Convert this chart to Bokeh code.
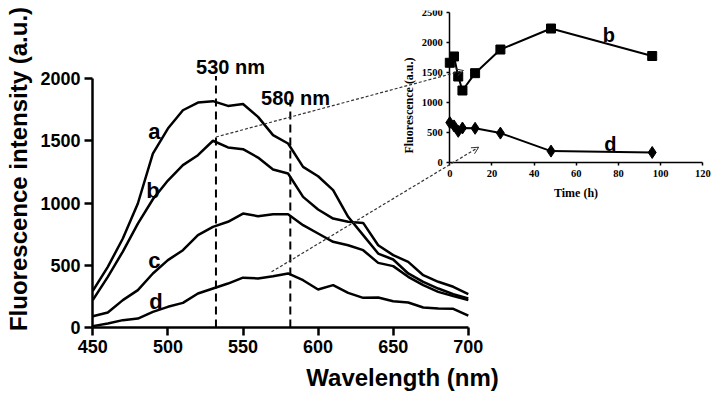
import math
from bokeh.plotting import figure
from bokeh.models import Range1d, LinearAxis, FixedTicker, Arrow, OpenHead, Label
from bokeh.core.properties import value
from bokeh.embed import file_html
from bokeh.resources import INLINE

# ---------------- data ----------------
WAVELENGTH = [450, 460, 470, 480, 490, 500, 510, 520, 530, 540, 550, 560, 570,
              580, 590, 600, 610, 620, 630, 640, 650, 660, 670, 680, 690, 700]
CURVE_A = [294, 487, 715, 996, 1397, 1598, 1745, 1807, 1818, 1780, 1795, 1692, 1545,
           1478, 1290, 1215, 1103, 889, 742, 594, 546, 434, 367, 313, 268, 233]
CURVE_B = [220, 407, 610, 835, 1030, 1180, 1304, 1384, 1500, 1446, 1432, 1365, 1269,
           1237, 1049, 948, 875, 849, 840, 661, 581, 527, 420, 367, 327, 268]
CURVE_C = [91, 120, 220, 300, 434, 541, 621, 742, 808, 849, 915, 894, 910,
           910, 822, 755, 688, 661, 621, 519, 493, 407, 340, 286, 252, 220]
CURVE_D = [11, 32, 59, 72, 126, 166, 198, 273, 313, 353, 400, 394, 412,
           434, 380, 305, 340, 278, 238, 241, 211, 201, 161, 153, 150, 95]
CURVE_NAMES = ["a", "b", "c", "d"]
CURVE_LABEL_X = [491, 490, 491, 492]
CURVE_LABEL_Y = [1571, 1103, 541, 206]

WL_TICKS = [450, 500, 550, 600, 650, 700]
INT_TICKS = [0, 500, 1000, 1500, 2000]

PEAK_X = [532, 581.5]
PEAK_TOP = [2020, 1830]
PEAK_TEXT = ["530 nm", "580 nm"]
PEAK_TEXT_X = [541.7, 585]
PEAK_TEXT_Y = [2093, 1847]

TIME_H = [0, 2, 4, 6, 12, 24, 48, 96]
INSET_B = [1667, 1772, 1438, 1205, 1494, 1888, 2238, 1780]
INSET_D = [670, 615, 525, 580, 575, 495, 195, 172]
TIME_TICKS = [0, 20, 40, 60, 80, 100, 120]
FLUO_TICKS = [0, 500, 1000, 1500, 2000, 2500]
INSET_LABEL_NAMES = ["b", "d"]
INSET_LABEL_T = [75.4, 76.2]
INSET_LABEL_F = [2122, 317]

# connectors: from main (nm, a.u.) to inset (h, a.u.)
CONN_FROM = [(532, 1530), (569, 447)]
CONN_TO = [(6.5, 1538), (13.7, 260)]

# ---------------- layout (canvas pixels) ----------------
FRAME_L = 92
FRAME_T = 10
FRAME_W = 620
FRAME_H = 317
PX_PER_NM = 1.502
PX_PER_AU = 249 / 2000.0
x_start = 450 - (92.3 - FRAME_L) / PX_PER_NM
x_end = x_start + FRAME_W / PX_PER_NM
y_end = FRAME_H / PX_PER_AU

# inset: t=0 at x 449.3, 120 at 702.3 ; f=0 at y 162.3, 2500 at 12.3
PX_PER_T = (702.3 - 449.3) / 120.0
PX_PER_F = (162.3 - 12.3) / 2500.0
t_start = -(449.3 - FRAME_L) / PX_PER_T
t_end = t_start + FRAME_W / PX_PER_T
f_end = 2500 + (12.3 - FRAME_T) / PX_PER_F
f_start = f_end - FRAME_H / PX_PER_F


def inset_to_main(t, f):
    nm = x_start + (t - t_start) * PX_PER_T / PX_PER_NM
    au = (f - f_start) * PX_PER_F / PX_PER_AU
    return nm, au


p = figure(frame_width=FRAME_W, frame_height=FRAME_H,
           x_range=Range1d(x_start, x_end), y_range=Range1d(0, y_end),
           output_backend="svg", toolbar_location=None,
           min_border_left=FRAME_L, min_border_top=FRAME_T,
           min_border_right=6, min_border_bottom=0,
           background_fill_color="white", border_fill_color="white")
p.xgrid.visible = False
p.ygrid.visible = False
p.outline_line_color = None
p.extra_x_ranges = {"t": Range1d(t_start, t_end)}
p.extra_y_ranges = {"f": Range1d(f_start, f_end)}

SANS = "Liberation Sans"
SERIF = "Liberation Serif"

# main axes
xa = p.xaxis[0]
xa.bounds = (450, 700)
xa.ticker = FixedTicker(ticks=WL_TICKS)
xa.axis_label = "Wavelength (nm)"
ya = p.yaxis[0]
ya.bounds = (0, 2000)
ya.ticker = FixedTicker(ticks=INT_TICKS)
ya.axis_label = "Fluorescence intensity (a.u.)"
for ax in (xa, ya):
    ax.axis_line_width = 2.5
    ax.axis_line_color = "black"
    ax.major_tick_line_width = 2.5
    ax.major_tick_line_color = "black"
    ax.major_tick_out = 8
    ax.major_tick_in = 0
    ax.minor_tick_line_color = None
    ax.major_label_text_font = SANS
    ax.major_label_text_font_style = "bold"
    ax.major_label_text_font_size = "18px"
    ax.major_label_text_color = "black"
    ax.major_label_standoff = 4
    ax.axis_label_text_font = SANS
    ax.axis_label_text_font_style = "bold"
    ax.axis_label_text_font_size = "24px"
    ax.axis_label_text_color = "black"
xa.axis_label_standoff = 8
ya.axis_label_standoff = 5

# curves
for ys in (CURVE_A, CURVE_B, CURVE_C, CURVE_D):
    p.line(WAVELENGTH, ys, line_width=2.5, line_color="black")
p.text(x=CURVE_LABEL_X, y=CURVE_LABEL_Y, text=CURVE_NAMES,
       text_font=value(SANS), text_font_style="bold", text_font_size="22px",
       text_align="center", text_baseline="middle", text_color="black")

# dashed marker lines
p.segment(x0=PEAK_X, y0=[0, 0], x1=PEAK_X, y1=PEAK_TOP,
          line_width=2, line_color="black", line_dash="8 5")
p.text(x=PEAK_TEXT_X, y=PEAK_TEXT_Y, text=PEAK_TEXT,
       text_font=value(SANS), text_font_style="bold", text_font_size="20px",
       text_align="center", text_baseline="middle", text_color="black")

# inset axes
ix = LinearAxis(x_range_name="t", y_range_name="f", fixed_location=0,
                bounds=(0, 120), ticker=FixedTicker(ticks=TIME_TICKS),
                axis_label="Time (h)")
iy = LinearAxis(x_range_name="t", y_range_name="f", fixed_location=0,
                bounds=(0, 2500), ticker=FixedTicker(ticks=FLUO_TICKS))
for ax in (ix, iy):
    ax.axis_line_width = 1.5
    ax.axis_line_color = "black"
    ax.major_tick_line_width = 1.5
    ax.major_tick_line_color = "black"
    ax.major_tick_out = 3
    ax.major_tick_in = 0
    ax.minor_tick_line_color = None
    ax.major_label_text_font = SERIF
    ax.major_label_text_font_style = "bold"
    ax.major_label_text_font_size = "10.5px"
    ax.major_label_text_color = "black"
    ax.major_label_standoff = 4
    ax.axis_label_text_font = SERIF
    ax.axis_label_text_font_style = "bold"
    ax.axis_label_text_font_size = "12px"
    ax.axis_label_text_color = "black"
ix.axis_label_standoff = 6
p.add_layout(ix, "below")
p.add_layout(iy, "left")
p.add_layout(Label(x=-19.4, y=955, x_range_name="t", y_range_name="f",
                   text="Fluorescence (a.u.)", angle=math.pi / 2,
                   text_align="center", text_baseline="middle",
                   text_font=SERIF, text_font_style="bold",
                   text_font_size="12px", text_color="black"))

# inset series
p.line(TIME_H, INSET_B, x_range_name="t", y_range_name="f",
       line_width=2, line_color="black")
p.scatter(TIME_H, INSET_B, x_range_name="t", y_range_name="f",
          marker="square", size=9, fill_color="black", line_color="black")
p.line(TIME_H, INSET_D, x_range_name="t", y_range_name="f",
       line_width=2, line_color="black")
p.scatter(TIME_H, INSET_D, x_range_name="t", y_range_name="f",
          marker="diamond", size=12, fill_color="black", line_color="black")
p.text(x=INSET_LABEL_T, y=INSET_LABEL_F, text=INSET_LABEL_NAMES,
       x_range_name="t", y_range_name="f",
       text_font=value(SANS), text_font_style="bold", text_font_size="20px",
       text_align="center", text_baseline="middle", text_color="black")

# dotted connectors with open arrow heads
for (sx, sy), (et, ef) in zip(CONN_FROM, CONN_TO):
    ex, ey = inset_to_main(et, ef)
    p.add_layout(Arrow(x_start=sx, y_start=sy, x_end=ex, y_end=ey,
                       line_width=1.2, line_color="#333333", line_dash="3 2",
                       end=OpenHead(size=7, line_width=1, line_color="#333333")))

open("out.html", "w").write(file_html(p, INLINE))
